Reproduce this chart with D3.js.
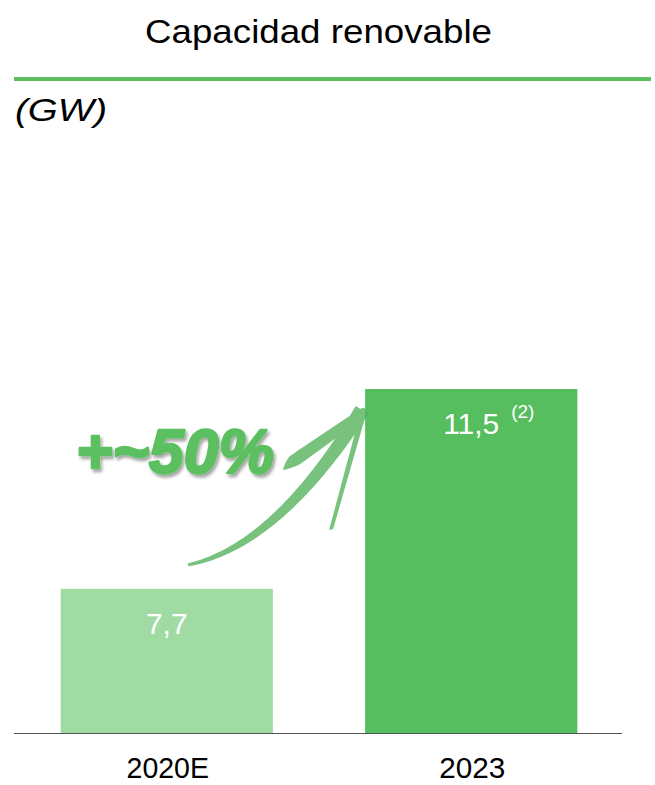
<!DOCTYPE html>
<html>
<head>
<meta charset="utf-8">
<script src="https://cdn.jsdelivr.net/npm/d3@7"></script>
<style>
  body { margin: 0; background: #fff; }
  text { font-family: "Liberation Sans", Arial, sans-serif; }
</style>
</head>
<body>
<div id="chart"></div>
<script>
// data
var categories = ['2020E', '2023'];
var values = [7.7, 11.5];
var valueLabels = ['7,7', '11,5'];
var notes = ['', '(2)'];
var barColors = ['#a1dba4', '#56be5e'];
var growthLabel = '+~50%';

var width = 655;
var height = 785;
var green = '#5bbf60';

var svg = d3.select('#chart')
  .append('svg')
  .attr('width', width)
  .attr('height', height);

// header
svg.append('text')
  .attr('x', 145)
  .attr('y', 43)
  .attr('font-size', 33)
  .attr('textLength', 347)
  .attr('lengthAdjust', 'spacingAndGlyphs')
  .attr('fill', '#000')
  .text('Capacidad renovable');

svg.append('line')
  .attr('x1', 14).attr('x2', 651)
  .attr('y1', 79).attr('y2', 79)
  .attr('stroke', green)
  .attr('stroke-width', 4);

svg.append('text')
  .attr('x', 15)
  .attr('y', 121)
  .attr('font-size', 31)
  .attr('font-style', 'italic')
  .attr('textLength', 92)
  .attr('lengthAdjust', 'spacingAndGlyphs')
  .attr('fill', '#000')
  .text('(GW)');

// scales (the original chart is not drawn from zero)
var x = d3.scaleBand()
  .domain(categories)
  .range([15, 623])
  .paddingInner(0.303)
  .paddingOuter(0.15);

var y = d3.scaleLinear()
  .domain([4.96, 11.5])
  .range([733, 389]);

svg.selectAll('rect.bar')
  .data(values)
  .enter()
  .append('rect')
  .classed('bar', true)
  .attr('x', function (d, i) { return x(categories[i]); })
  .attr('y', function (d) { return y(d); })
  .attr('width', x.bandwidth())
  .attr('height', function (d) { return y.range()[0] - y(d); })
  .attr('fill', function (d, i) { return barColors[i]; });

// baseline
svg.append('line')
  .attr('x1', 14).attr('x2', 622)
  .attr('y1', 733.5).attr('y2', 733.5)
  .attr('stroke', '#555')
  .attr('stroke-width', 1.2);

// category labels
svg.selectAll('text.cat')
  .data(categories)
  .enter()
  .append('text')
  .classed('cat', true)
  .attr('x', function (d) { return x(d) + x.bandwidth() / 2 + 1; })
  .attr('y', 778)
  .attr('text-anchor', 'middle')
  .attr('font-size', 29)
  .attr('textLength', function (d) { return d.length * 16.5; })
  .attr('lengthAdjust', 'spacingAndGlyphs')
  .attr('fill', '#000')
  .text(function (d) { return d; });

// value labels
svg.selectAll('text.val')
  .data(values)
  .enter()
  .append('text')
  .classed('val', true)
  .attr('x', function (d, i) { return x(categories[i]) + x.bandwidth() / 2; })
  .attr('y', function (d) { return y(d) + 45; })
  .attr('text-anchor', 'middle')
  .attr('font-size', 30)
  .attr('fill', '#fff')
  .text(function (d, i) { return valueLabels[i]; });

svg.selectAll('text.note')
  .data(values)
  .enter()
  .append('text')
  .classed('note', true)
  .attr('x', function (d, i) { return x(categories[i]) + x.bandwidth() / 2 + 40; })
  .attr('y', function (d) { return y(d) + 29; })
  .attr('font-size', 19)
  .attr('fill', '#fff')
  .text(function (d, i) { return notes[i]; });

// growth arrow: tapered brush stroke from bar 1 to bar 2
var p0 = [x(categories[0]) + x.bandwidth() * 0.6, y(values[0]) - 24];
var p2 = [x(categories[1]) - 3, y(values[1]) + 21];
var p1 = [p0[0] + (p2[0] - p0[0]) * 0.51, p0[1] - 18];

function bez(t) {
  var u = 1 - t;
  return [u * u * p0[0] + 2 * u * t * p1[0] + t * t * p2[0],
          u * u * p0[1] + 2 * u * t * p1[1] + t * t * p2[1]];
}

var n = 40, left = [], right = [];
for (var i = 0; i <= n; i++) {
  var t = i / n;
  var a = bez(Math.max(0, t - 0.01)), b = bez(Math.min(1, t + 0.01));
  var dx = b[0] - a[0], dy = b[1] - a[1], len = Math.sqrt(dx * dx + dy * dy);
  var nx = -dy / len, ny = dx / len;
  var w = 1.5 + 6 * t;
  var c = bez(t);
  left.push([c[0] + nx * w, c[1] + ny * w]);
  right.push([c[0] - nx * w, c[1] - ny * w]);
}
var shaft = left.concat(right.reverse());

var arrow = svg.append('g').attr('opacity', 0.75);
arrow.append('path')
  .attr('d', d3.line().curve(d3.curveLinearClosed)(shaft))
  .attr('fill', '#4bae52');

// arrow head barbs
var barbL = [[p2[0], p2[1] - 2], [p2[0] - 72, p2[1] + 46], [p2[0] - 79, p2[1] + 60], [p2[0] - 62, p2[1] + 54], [p2[0] + 2, p2[1] + 7]];
var barbR = [[p2[0] - 1, p2[1]], [p2[0] - 33, p2[1] + 120], [p2[0] - 29, p2[1] + 119], [p2[0] + 4, p2[1] + 4]];
arrow.append('path')
  .attr('d', d3.line().curve(d3.curveCardinalClosed.tension(0.7))(barbL))
  .attr('fill', '#4bae52');
arrow.append('path')
  .attr('d', d3.line().curve(d3.curveLinearClosed)(barbR))
  .attr('fill', '#4bae52');

// growth label with soft shadow
var defs = svg.append('defs');
var f = defs.append('filter').attr('id', 'shadow').attr('x', '-10%').attr('y', '-20%').attr('width', '130%').attr('height', '150%');
f.append('feDropShadow')
  .attr('dx', 2).attr('dy', 3)
  .attr('stdDeviation', 1.5)
  .attr('flood-color', '#000')
  .attr('flood-opacity', 0.35);

svg.append('text')
  .attr('x', 76)
  .attr('y', 473)
  .attr('font-size', 63)
  .attr('font-weight', 'bold')
  .attr('font-style', 'italic')
  .attr('textLength', 198)
  .attr('lengthAdjust', 'spacingAndGlyphs')
  .attr('fill', green)
  .attr('stroke', green)
  .attr('stroke-width', 2.5)
  .attr('stroke-linejoin', 'round')
  .attr('filter', 'url(#shadow)')
  .text(growthLabel);
</script>
</body>
</html>
